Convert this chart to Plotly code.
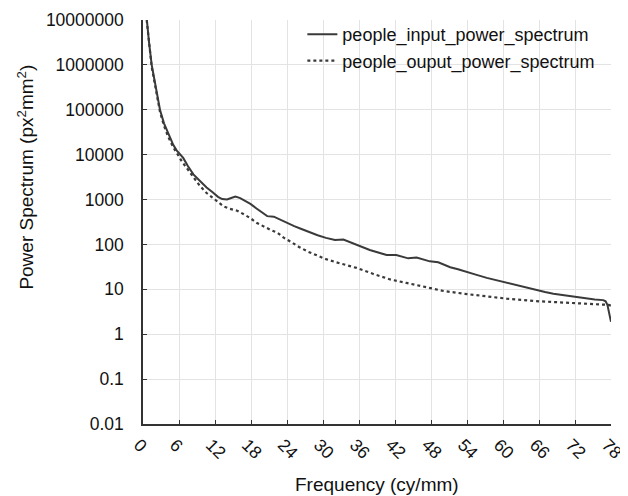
import plotly.graph_objects as go

# --- data ---
input_freq = [0.3, 0.62, 1.0, 1.45, 2.0, 2.83, 3.5, 4.2, 5.04, 5.6, 6.7, 7.5, 8.4, 9.5, 10.6,
              11.6, 12.5, 13.2, 14.0, 14.7, 15.4, 16.2, 17.0, 17.9, 18.8, 19.8, 20.7, 21.8,
              23.0, 24.1, 25.2, 26.3, 27.6, 29.1, 30.5, 32.0, 33.4, 34.5, 35.6, 36.7, 37.8,
              39.2, 40.6, 42.2, 43.2, 44.2, 45.6, 46.7, 47.8, 49.2, 50.2, 51.2, 52.5, 53.9,
              55.6, 57.3, 58.7, 60.1, 61.5, 62.8, 64.2, 65.6, 67.0, 68.4, 69.8, 71.2, 72.5,
              73.9, 75.3, 76.7, 77.1, 77.4, 77.6, 77.8, 78.0]
input_power = [3e7, 1e7, 3.2e6, 1e6, 4e5, 1e5, 5e4, 2.9e4, 1.66e4, 1.25e4, 8460, 5500, 3630,
               2600, 1860, 1450, 1150, 1023, 1000, 1080, 1160, 1080, 950, 800, 650, 510, 427,
               415, 350, 290, 255, 224, 190, 160, 140, 125, 129, 112, 97, 85, 75, 66, 58, 58,
               53, 49, 51, 46, 42, 40, 35, 31, 28, 25, 21, 18, 16.2, 14.7, 13.1, 11.7, 10.5,
               9.5, 8.7, 8.0, 7.5, 7.0, 6.6, 6.2, 5.95, 5.75, 5.4, 4.5, 3.4, 2.4, 1.9]

output_freq = [0.3, 0.62, 1.0, 1.45, 2.0, 2.83, 3.5, 4.2, 5.0, 5.6, 6.5, 7.85, 9.5, 10.6, 11.8,
               13.4, 14.5, 15.7, 16.8, 17.9, 19.0, 20.2, 21.3, 22.4, 23.5, 24.7, 26.0, 27.5,
               29.0, 30.5, 32.8, 35.6, 38.4, 41.2, 43.9, 47.3, 50.1, 53.4, 57.3, 60.6, 65.1,
               69.5, 73.9, 77.0, 77.6, 78.0]
output_power = [2.5e7, 9e6, 2.9e6, 9e5, 3.6e5, 9e4, 4.4e4, 2.5e4, 1.5e4, 1.09e4, 7000, 3980,
                2000, 1400, 1030, 710, 620, 565, 470, 385, 300, 245, 210, 182, 140, 113, 88,
                69, 56, 47, 38, 30, 22, 16.6, 13.9, 11.2, 9.2, 8.0, 6.9, 6.2, 5.5, 5.1, 4.8,
                4.6, 4.5, 4.3]

x_ticks = list(range(0, 79, 6))
y_tickvals = [0.01, 0.1, 1, 10, 100, 1000, 10000, 100000, 1000000, 10000000]
y_ticktext = ["0.01", "0.1", "1", "10", "100", "1000", "10000", "100000", "1000000", "10000000"]

x_title = "Frequency (cy/mm)"
y_title = "Power Spectrum (px<sup>2</sup>mm<sup>2</sup>)"

FONT = "Liberation Sans, Arial, Helvetica, sans-serif"
TXT = "#111111"

fig = go.Figure()
fig.add_trace(go.Scatter(x=input_freq, y=input_power, mode="lines",
                         name="people_input_power_spectrum",
                         line=dict(color="#3a3a3a", width=2)))
fig.add_trace(go.Scatter(x=output_freq, y=output_power, mode="lines",
                         name="people_ouput_power_spectrum",
                         line=dict(color="#3a3a3a", width=2.2, dash="3px,3px")))

# the page body adds an 8px offset, so the figure is drawn 8px smaller
fig.update_layout(
    width=620, height=488,
    margin=dict(l=135, r=17, t=8, b=72),
    paper_bgcolor="white", plot_bgcolor="white",
    font=dict(family=FONT, size=18, color=TXT),
    showlegend=True,
    legend=dict(x=0.3405, y=1.01, xanchor="left", yanchor="top",
                bgcolor="rgba(0,0,0,0)", font=dict(size=18, family=FONT, color=TXT),
                tracegroupgap=0, itemwidth=30),
    annotations=[
        dict(text=x_title, xref="paper", yref="paper", x=0.5, y=-0.1495,
             xanchor="center", yanchor="middle", showarrow=False,
             font=dict(size=19, family=FONT, color=TXT)),
        dict(text=y_title, xref="paper", yref="paper", x=-0.252, y=0.61,
             xanchor="center", yanchor="middle", showarrow=False, textangle=-90,
             font=dict(size=19, family=FONT, color=TXT)),
    ],
)
fig.update_xaxes(
    range=[0, 78], tickvals=x_ticks, ticktext=[str(v) for v in x_ticks],
    tickangle=45, showgrid=True, gridcolor="#e3e3e3", gridwidth=1,
    showline=True, linecolor="#333", linewidth=1.5,
    ticks="inside", ticklen=4, tickcolor="#333",
    tickfont=dict(size=17.5, family=FONT, color=TXT), zeroline=False,
    automargin=False, ticklabelshift=-4, ticklabelstandoff=2,
)
fig.update_yaxes(
    type="log", range=[-2, 7], tickvals=y_tickvals, ticktext=y_ticktext,
    showgrid=True, gridcolor="#e3e3e3", gridwidth=1,
    showline=True, linecolor="#333", linewidth=1.5,
    ticks="inside", ticklen=4, tickcolor="#333",
    tickfont=dict(size=17.5, family=FONT, color=TXT), zeroline=False,
    automargin=False, ticklabelstandoff=14,
)

fig.write_html("out.html")
